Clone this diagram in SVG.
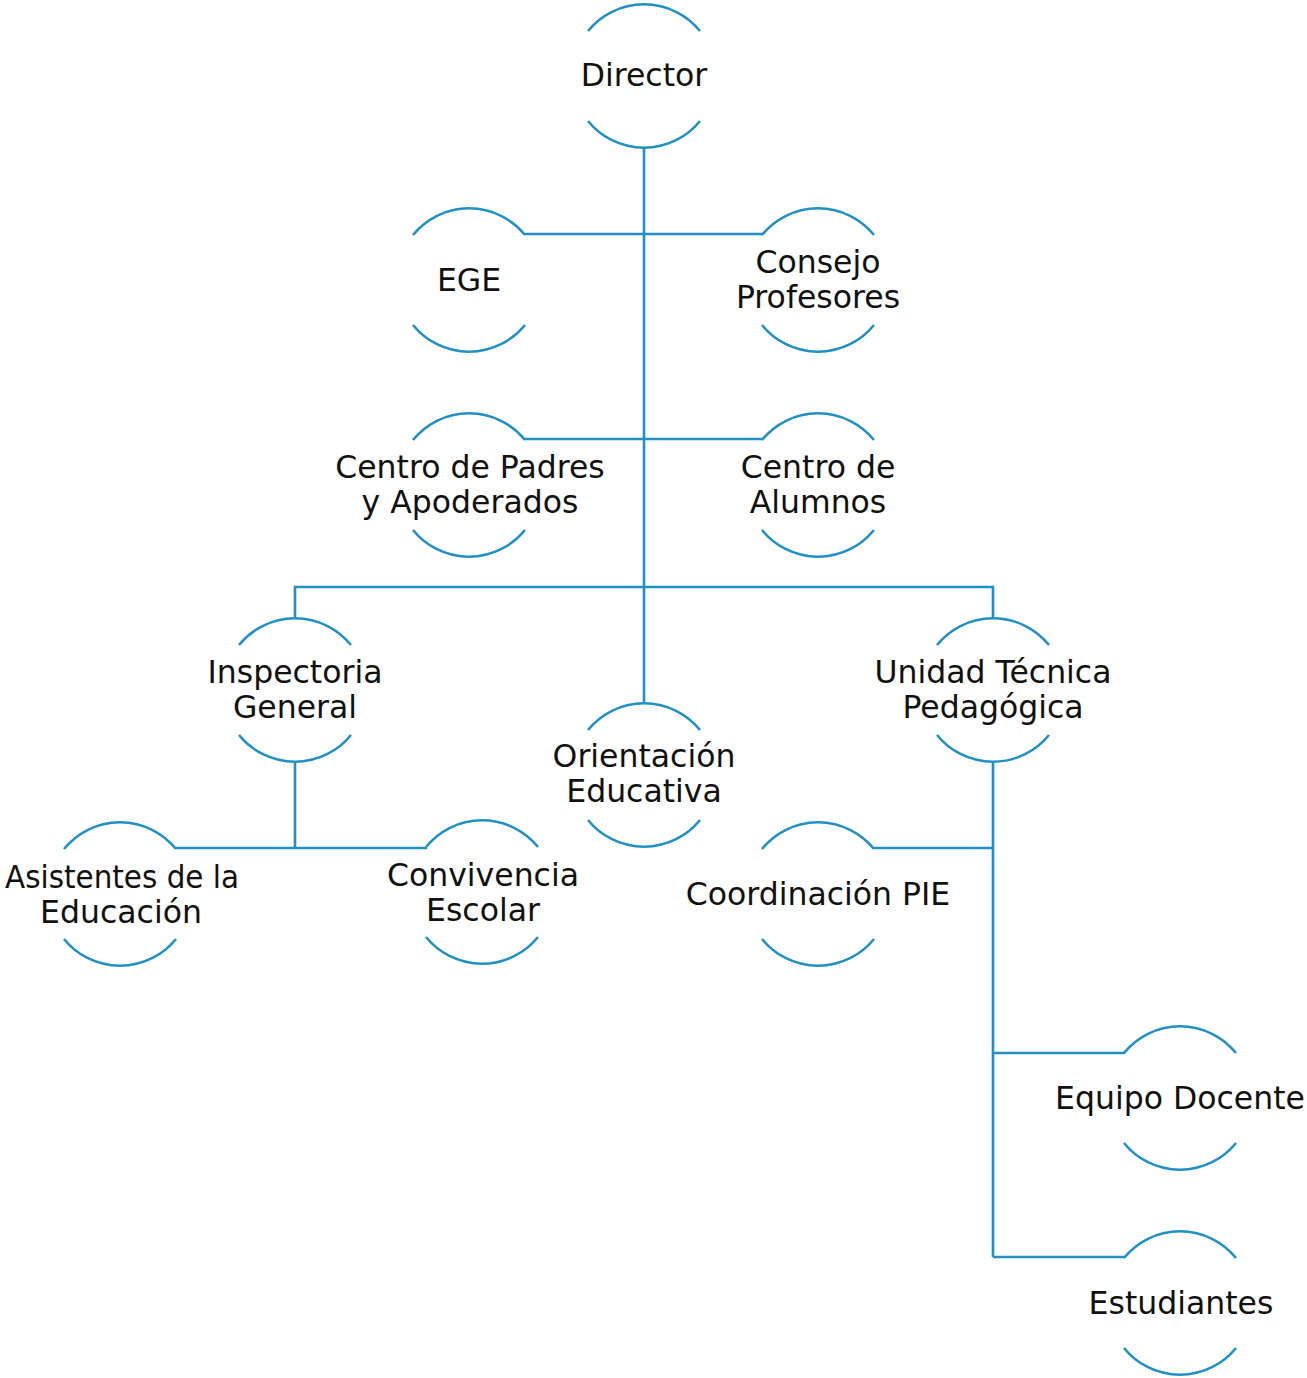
<svg xmlns="http://www.w3.org/2000/svg" xmlns:xlink="http://www.w3.org/1999/xlink" width="1307" height="1378" viewBox="0 0 1307 1378">
<style>
.arc{fill:none;stroke:#2190c3;stroke-width:2.5}
.con{fill:none;stroke:#2190c3;stroke-width:2.6}
text{font-family:"DejaVu Sans","Liberation Sans",sans-serif;font-size:31.5px;fill:#111;text-anchor:middle}
</style>
<defs>
<path id="ring" class="arc" d="M-56 -45 A72 72 0 0 1 56 -45 M-56 45 A72 72 0 0 0 56 45"/>
</defs>
<rect width="1307" height="1378" fill="#fff"/>
<g id="connectors">
<path class="con" d="M644 148 V703"/>
<path class="con" d="M525 234 H763"/>
<path class="con" d="M525 439 H763"/>
<path class="con" d="M295 618 V587 H993 V618"/>
<path class="con" d="M295 762 V848 M176 848 H427"/>
<path class="con" d="M993 762 V1257 M874 848 H993 M993 1053 H1125 M993 1257 H1125"/>
</g>
<g id="director"><use xlink:href="#ring" x="644" y="76"/><text x="644" y="86">Director</text></g>
<g id="ege"><use xlink:href="#ring" x="469" y="280"/><text x="469" y="291">EGE</text></g>
<g id="consejo"><use xlink:href="#ring" x="818" y="280"/><text x="818" y="273">Consejo</text><text x="818" y="308">Profesores</text></g>
<g id="padres"><use xlink:href="#ring" x="469" y="485"/><text x="470" y="478">Centro de Padres</text><text x="470" y="513">y Apoderados</text></g>
<g id="alumnos"><use xlink:href="#ring" x="818" y="485"/><text x="818" y="478">Centro de</text><text x="818" y="513">Alumnos</text></g>
<g id="inspectoria"><use xlink:href="#ring" x="295" y="690"/><text x="295" y="683">Inspectoria</text><text x="295" y="718">General</text></g>
<g id="orientacion"><use xlink:href="#ring" x="644" y="775"/><text x="644" y="767">Orientación</text><text x="644" y="802">Educativa</text></g>
<g id="utp"><use xlink:href="#ring" x="993" y="690"/><text x="993" y="683">Unidad Técnica</text><text x="993" y="718">Pedagógica</text></g>
<g id="asistentes"><use xlink:href="#ring" x="120" y="894"/><text x="122" y="888" textLength="234" lengthAdjust="spacingAndGlyphs">Asistentes de la</text><text x="121" y="923">Educación</text></g>
<g id="convivencia"><use xlink:href="#ring" x="482" y="892"/><text x="483" y="886">Convivencia</text><text x="483" y="921">Escolar</text></g>
<g id="pie"><use xlink:href="#ring" x="818" y="894"/><text x="818" y="905">Coordinación PIE</text></g>
<g id="docente"><use xlink:href="#ring" x="1180" y="1098"/><text x="1180" y="1109">Equipo Docente</text></g>
<g id="estudiantes"><use xlink:href="#ring" x="1180" y="1303"/><text x="1181" y="1314">Estudiantes</text></g>
</svg>
